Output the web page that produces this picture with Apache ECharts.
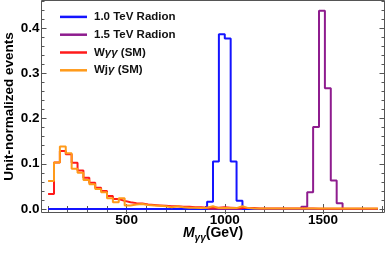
<!DOCTYPE html>
<html>
<head>
<meta charset="utf-8">
<script src="https://cdn.jsdelivr.net/npm/echarts@6/dist/echarts.min.js"></script>
<style>html,body{margin:0;padding:0;background:#fff}#c{width:387px;height:253px}</style>
</head>
<body>
<div id="c"></div>
<script>
// ---- data ----
const binStart = 100;      // GeV, lower edge of first bin
const binWidth = 30;       // GeV
const seriesNames = ['1.0 TeV Radion', '1.5 TeV Radion', 'Wγγ (SM)', 'Wjγ (SM)'];
const seriesColors = ['#1414ff', '#8e1c8e', '#ff1a1a', '#ff9a1a'];
// unit-normalized bin contents, 56 bins of 30 GeV from 100 to 1780 GeV
const radion1000 = [0,0,0,0,0,0,0,0,0,0, 0,0,0,0,0,0,0,0,0,0, 0,0,0,0,0,0,0,0.016,0.105,0.386,
                    0.377,0.105,0.018,0,0,0,0,0,0,0, 0,0,0,0,0,0,0,0,0,0, 0,0,0,0,0,0];
const radion1500 = [0,0,0,0,0,0,0,0,0,0, 0,0,0,0,0,0,0,0,0,0, 0,0,0,0,0,0,0,0,0,0,
                    0,0,0,0,0,0,0,0,0,0, 0,0,0,0.005,0.037,0.181,0.438,0.267,0.063,0.013, 0,0,0,0,0,0];
const wgg = [0.033,0.103,0.128,0.121,0.102,0.085,0.069,0.058,0.047,0.040,
             0.029,0.022,0.018,0.015,0.013,0.012,0.010,0.009,0.008,0.007,
             0.006,0.006,0.005,0.005,0.004,0.004,0.003,0.003,0.003,0.004,
             0.003,0.002,0.002,0.002,0.002,0.001,0.001,0.001,0.001,0.001,
             0.001,0.001,0.001,0.001,0.001,0.0005,0.0005,0.0005,0.0005,0.0005,
             0.0005,0.0005,0.0005,0.0005,0.0005,0.0005];
const wjg = [0.062,0.103,0.138,0.123,0.089,0.080,0.064,0.055,0.044,0.037,
             0.024,0.015,0.024,0.008,0.010,0.011,0.009,0.008,0.007,0.006,
             0.004,0.006,0.004,0.003,0.003,0.002,0.003,0.006,0.002,0.002,
             0.002,0.002,0.006,0.002,0.001,0.001,0.001,0.001,0.001,0.001,
             0.001,0.001,0.001,0.001,0.001,0.001,0.001,0.001,0.001,0.001,
             0.001,0.001,0.001,0.001,0.001,0.001];
const xMajorTicks = [500, 1000, 1500];
const xMinorTicks = [100,200,300,400,600,700,800,900,1100,1200,1300,1400,1600,1700,1800];
const yMajorTicks = [0, 0.1, 0.2, 0.3, 0.4];
const yMinorTicks = [0.02,0.04,0.06,0.08,0.12,0.14,0.16,0.18,0.22,0.24,0.26,0.28,0.32,0.34,0.36,0.38,0.42,0.44,0.46];
const xTitle = '{m|M}{s|γγ}{n|(GeV)}';
const yTitle = 'Unit-normalized events';

// ---- chart ----
const FONT = '"Liberation Sans", Arial, sans-serif';
const XMIN = 66.4, XMAX = 1813.6, YMIN = -0.0077, YMAX = 0.4608;
const FRAME = '#555';

function steps(vals) {
  const pts = vals.map((v, i) => [binStart + i * binWidth, v]);
  pts.push([binStart + vals.length * binWidth, vals[vals.length - 1]]);
  return pts;
}

function xAx(pos, ticks, len, showLabel, extra) {
  return Object.assign({
    type: 'value', position: pos, min: XMIN, max: XMAX,
    axisLine: {show: false}, splitLine: {show: false},
    axisTick: {show: true, inside: true, length: len, customValues: ticks, lineStyle: {color: FRAME, width: 1}},
    axisLabel: {show: showLabel, customValues: ticks, margin: 1, color: '#000', fontFamily: FONT, fontWeight: 'bold', fontSize: 13.5,
                formatter: v => String(v)}
  }, extra || {});
}
function yAx(pos, ticks, len, showLabel, extra) {
  return Object.assign({
    type: 'value', position: pos, min: YMIN, max: YMAX,
    axisLine: {show: false}, splitLine: {show: false},
    axisTick: {show: true, inside: true, length: len, customValues: ticks, lineStyle: {color: FRAME, width: 1}},
    axisLabel: {show: showLabel, customValues: ticks, margin: 2, color: '#000', fontFamily: FONT, fontWeight: 'bold', fontSize: 13.5,
                formatter: v => v.toFixed(1)}
  }, extra || {});
}

const chart = echarts.init(document.getElementById('c'), null, {renderer: 'canvas'});
const dataSets = [radion1000, radion1500, wgg, wjg];
const zs = [3, 2, 4, 5];

chart.setOption({
  animation: false,
  grid: {left: 41.5, top: 0.5, right: 2.5, bottom: 40.5, show: true, borderColor: FRAME, borderWidth: 1,
         containLabel: false, outerBoundsMode: 'none'},
  legend: {
    orient: 'vertical', left: 55, top: 5, itemWidth: 27, itemHeight: 2.5, itemGap: 4, icon: 'rect',
    data: seriesNames,
    formatter: name => '{sp| }' + name.replace(/(γ+)/g, '{g|$1}'),
    textStyle: {fontFamily: FONT, fontWeight: 'bold', fontSize: 11.5, color: '#111', lineHeight: 13.8,
      rich: {sp: {width: 2}, g: {fontFamily: FONT, fontWeight: 'bold', fontStyle: 'italic', fontSize: 11.5, color: '#111'}}}
  },
  xAxis: [
    xAx('bottom', xMajorTicks, 5, true, {
      name: xTitle, nameLocation: 'middle', nameGap: 14, nameMoveOverlap: false,
      nameTextStyle: {fontFamily: FONT, color: '#000', rich: {
        m: {fontFamily: FONT, fontWeight: 'bold', fontStyle: 'italic', fontSize: 14, lineHeight: 16, verticalAlign: 'top'},
        s: {fontFamily: FONT, fontWeight: 'bold', fontStyle: 'italic', fontSize: 10, lineHeight: 10, padding: [7, 0, 0, 0], verticalAlign: 'top'},
        n: {fontFamily: FONT, fontWeight: 'bold', fontSize: 14, lineHeight: 16, verticalAlign: 'top'}
      }}
    }),
    xAx('bottom', xMinorTicks, 3, false),
    xAx('top', xMajorTicks, 5, false),
    xAx('top', xMinorTicks, 3, false)
  ],
  yAxis: [
    yAx('left', yMajorTicks, 5, true, {
      name: yTitle, nameLocation: 'middle', nameGap: 25, nameMoveOverlap: false,
      nameTextStyle: {fontFamily: FONT, fontWeight: 'bold', fontSize: 13.5, color: '#000'}
    }),
    yAx('left', yMinorTicks, 3, false),
    yAx('right', yMajorTicks, 5, false),
    yAx('right', yMinorTicks, 3, false)
  ],
  series: dataSets.map((d, i) => ({
    name: seriesNames[i], type: 'line', step: 'end', symbol: 'none',
    xAxisIndex: 0, yAxisIndex: 0, z: zs[i], silent: true,
    color: seriesColors[i],
    lineStyle: {color: seriesColors[i], width: 2},
    data: steps(d)
  }))
});
</script>
</body>
</html>
